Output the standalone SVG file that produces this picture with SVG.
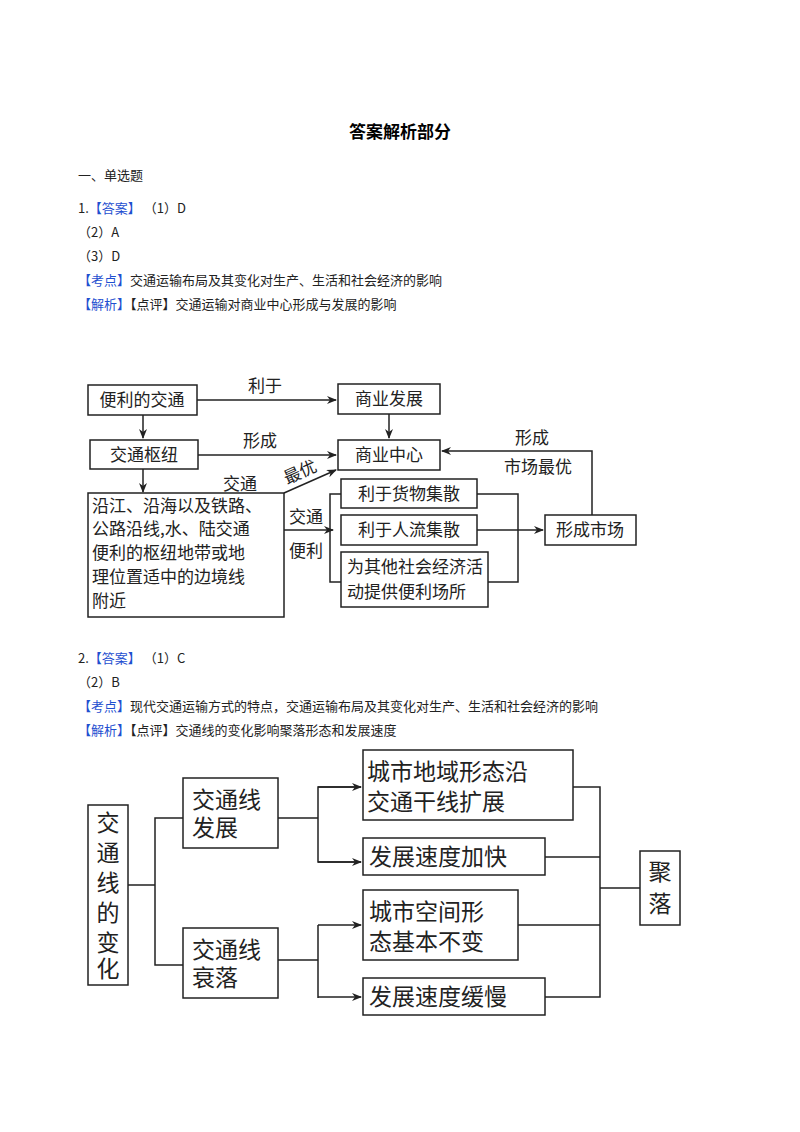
<svg xmlns="http://www.w3.org/2000/svg" width="800" height="1132" viewBox="0 0 800 1132">
<defs>
<marker id="a" markerWidth="10" markerHeight="8" refX="9" refY="4" orient="auto" markerUnits="userSpaceOnUse"><path d="M0,0 L10,4 L0,8 L3,4 z" fill="#222"/></marker>
<style>
.t{font-family:"Noto Sans CJK SC","Liberation Sans",sans-serif;font-size:13px;fill:#222}
.b{fill:#1f4fd0}
.n{fill:#fff;stroke:#222;stroke-width:1.5}
.l{font-family:"Noto Sans CJK SC",sans-serif;font-size:17px;fill:#222}
.m{font-family:"Noto Sans CJK SC",sans-serif;font-size:23px;fill:#222}
.c{fill:none;stroke:#222;stroke-width:1.5}
</style>
</defs>
<rect width="800" height="1132" fill="#fff"/>
<text x="400" y="138" text-anchor="middle" style="font-family:'Noto Sans CJK SC',sans-serif;font-size:17px;font-weight:bold">答案解析部分</text>
<text class="t" x="78" y="180">一、单选题</text>
<text class="t" x="78" y="213">1.<tspan class="b">【答案】</tspan> （1）D</text>
<text class="t" x="78" y="237">（2）A</text>
<text class="t" x="78" y="261">（3）D</text>
<text class="t" x="78" y="285"><tspan class="b">【考点】</tspan>交通运输布局及其变化对生产、生活和社会经济的影响</text>
<text class="t" x="78" y="309"><tspan class="b">【解析】</tspan>【点评】交通运输对商业中心形成与发展的影响</text>
<text class="t" x="78" y="663">2.<tspan class="b">【答案】</tspan> （1）C</text>
<text class="t" x="78" y="687">（2）B</text>
<text class="t" x="78" y="711"><tspan class="b">【考点】</tspan>现代交通运输方式的特点，交通运输布局及其变化对生产、生活和社会经济的影响</text>
<text class="t" x="78" y="735"><tspan class="b">【解析】</tspan>【点评】交通线的变化影响聚落形态和发展速度</text>

<g id="connectors1">
<path class="c" d="M197,400 H336" marker-end="url(#a)"/>
<path class="c" d="M143,415 V438" marker-end="url(#a)"/>
<path class="c" d="M389,414 V438" marker-end="url(#a)"/>
<path class="c" d="M198,455 H336" marker-end="url(#a)"/>
<path class="c" d="M143,469 V492" marker-end="url(#a)"/>
<path class="c" d="M284,493 L336,470" marker-end="url(#a)"/>
<path class="c" d="M284,530 H333" marker-end="url(#a)"/>
<path class="c" d="M341,494 H330 V582 H341"/>
<path class="c" d="M477,494 H518 V582 H488"/>
<path class="c" d="M477,530 H543" marker-end="url(#a)"/>
<path class="c" d="M592,515 V451 H442" marker-end="url(#a)"/>
<text class="l" x="265" y="392" text-anchor="middle">利于</text>
<text class="l" x="260" y="447" text-anchor="middle">形成</text>
<text class="l" x="240" y="490" text-anchor="middle">交通</text>
<text class="l" x="300" y="478" text-anchor="middle" transform="rotate(-24 300 472)">最优</text>
<text class="l" x="306" y="523" text-anchor="middle">交通</text>
<text class="l" x="306" y="557" text-anchor="middle">便利</text>
<text class="l" x="532" y="444" text-anchor="middle">形成</text>
<text class="l" x="538" y="473" text-anchor="middle">市场最优</text>
</g>
<g id="n1"><rect class="n" x="88" y="385" width="109" height="30"/><text class="l" x="142" y="406" text-anchor="middle">便利的交通</text></g>
<g id="n2"><rect class="n" x="338" y="384" width="102" height="30"/><text class="l" x="389" y="405" text-anchor="middle">商业发展</text></g>
<g id="n3"><rect class="n" x="90" y="440" width="108" height="29"/><text class="l" x="144" y="461" text-anchor="middle">交通枢纽</text></g>
<g id="n4"><rect class="n" x="338" y="440" width="102" height="30"/><text class="l" x="389" y="461" text-anchor="middle">商业中心</text></g>
<g id="n5"><rect class="n" x="88" y="493" width="196" height="124"/>
<text class="l" x="92" y="512">沿江、沿海以及铁路、</text>
<text class="l" x="92" y="535">公路沿线,水、陆交通</text>
<text class="l" x="92" y="559">便利的枢纽地带或地</text>
<text class="l" x="92" y="583">理位置适中的边境线</text>
<text class="l" x="92" y="607">附近</text></g>
<g id="n6"><rect class="n" x="341" y="479" width="136" height="29"/><text class="l" x="409" y="500" text-anchor="middle">利于货物集散</text></g>
<g id="n7"><rect class="n" x="341" y="515" width="136" height="30"/><text class="l" x="409" y="536" text-anchor="middle">利于人流集散</text></g>
<g id="n8"><rect class="n" x="341" y="552" width="147" height="55"/><text class="l" x="347" y="573">为其他社会经济活</text><text class="l" x="347" y="598">动提供便利场所</text></g>
<g id="n9"><rect class="n" x="545" y="515" width="91" height="30"/><text class="l" x="590" y="536" text-anchor="middle">形成市场</text></g>

<g id="connectors2">
<path class="c" d="M128,885 H155 M183,818 H155 V965 H183"/>
<path class="c" d="M278,818 H318 M361,787 H318 V862 H361" />
<path class="c" d="M318,787 H361" marker-end="url(#a)"/>
<path class="c" d="M318,862 H361" marker-end="url(#a)"/>
<path class="c" d="M278,960 H318 M318,925 V998"/>
<path class="c" d="M318,925 H361" marker-end="url(#a)"/>
<path class="c" d="M318,997 H361" marker-end="url(#a)"/>
<path class="c" d="M573,787 H600 V997 H545 M545,857 H600 M518,925 H600 M600,888 H640"/>
</g>
<g id="m1"><rect class="n" x="88" y="805" width="40" height="180"/>
<text class="m" x="108" y="831" text-anchor="middle">交</text><text class="m" x="108" y="861" text-anchor="middle">通</text><text class="m" x="108" y="891" text-anchor="middle">线</text><text class="m" x="108" y="921" text-anchor="middle">的</text><text class="m" x="108" y="951" text-anchor="middle">变</text><text class="m" x="108" y="977" text-anchor="middle">化</text></g>
<g id="m2"><rect class="n" x="183" y="778" width="95" height="70"/><text class="m" x="192" y="808">交通线</text><text class="m" x="192" y="836">发展</text></g>
<g id="m3"><rect class="n" x="183" y="928" width="95" height="70"/><text class="m" x="192" y="958">交通线</text><text class="m" x="192" y="986">衰落</text></g>
<g id="m4"><rect class="n" x="363" y="750" width="210" height="70"/><text class="m" x="367" y="780">城市地域形态沿</text><text class="m" x="367" y="810">交通干线扩展</text></g>
<g id="m5"><rect class="n" x="363" y="838" width="182" height="37"/><text class="m" x="369" y="865">发展速度加快</text></g>
<g id="m6"><rect class="n" x="363" y="890" width="155" height="70"/><text class="m" x="369" y="920">城市空间形</text><text class="m" x="369" y="950">态基本不变</text></g>
<g id="m7"><rect class="n" x="363" y="978" width="182" height="37"/><text class="m" x="369" y="1005">发展速度缓慢</text></g>
<g id="m8"><rect class="n" x="640" y="851" width="40" height="74"/><text class="m" x="660" y="880" text-anchor="middle">聚</text><text class="m" x="660" y="912" text-anchor="middle">落</text></g>
</svg>
